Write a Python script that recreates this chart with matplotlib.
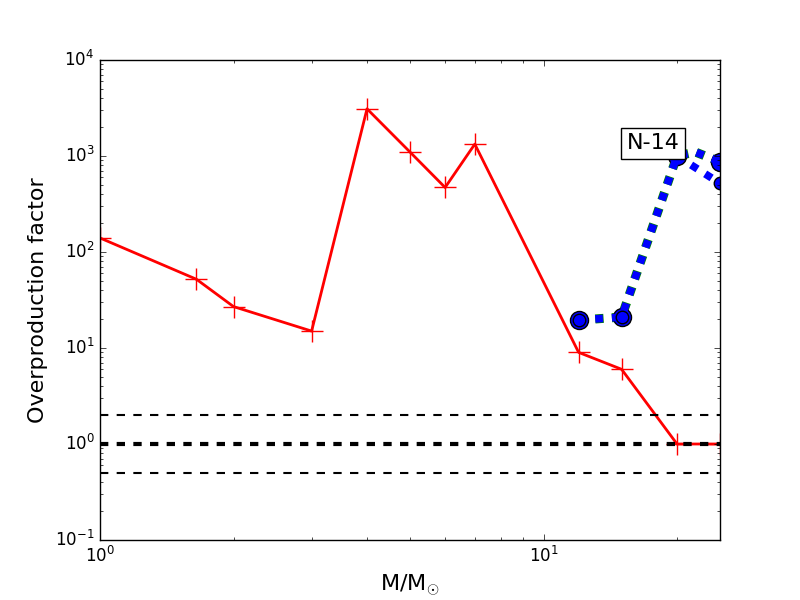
import numpy as np
import matplotlib
matplotlib.use("Agg")
import matplotlib.pyplot as plt

plt.style.use("classic")

# red model: overproduction factor vs initial mass
mass_a = [1.0, 1.65, 2.0, 3.0, 4.0, 5.0, 6.0, 7.0, 12.0, 15.0, 20.0, 25.0]
opf_a = [140, 52, 27, 15, 3100, 1100, 470, 1330, 9.0, 6.0, 1.0, 1.0]

# green model
mass_b = [12.0, 15.0, 20.0, 22.0, 25.0]
opf_b = [19.5, 21, 1000, 1100, 870]

# blue dotted model (second branch above 20 Msun)
mass_c = [20.0, 25.0]
opf_c = [1000, 520]

ref_levels = [2.0, 1.0, 0.5]
ref_widths = [1.5, 3.0, 1.5]

fig = plt.figure(figsize=(8, 6), dpi=100, facecolor="white")
ax = fig.add_subplot(111)

ax.plot(mass_a, opf_a, color="red", lw=2, marker="+", ms=16, mec="red", mew=1)

ax.plot(mass_b, opf_b, color="green", lw=6.5, dashes=(6, 6),
        marker="o", ms=13, mfc="blue", mec="black", mew=1,
        markevery=[0, 1, 2, 4])
ax.plot(mass_b, opf_b, color="blue", lw=5.5, dashes=(5.5, 6.5),
        marker="o", ms=9, mfc="blue", mec="black", mew=1,
        markevery=[0, 1])
ax.plot(mass_c, opf_c, color="blue", lw=5.5, dashes=(5.5, 6.5),
        marker="o", ms=9, mfc="blue", mec="black", mew=1,
        markevery=[1])

for lev, w in zip(ref_levels, ref_widths):
    ax.axhline(lev, color="black", ls="--", lw=w)

ax.set_xscale("log")
ax.set_yscale("log")
ax.set_xlim(1, 25)
ax.set_ylim(0.1, 1e4)
ax.set_xlabel(r"M/M$_{\odot}$", fontsize=16)
ax.set_ylabel("Overproduction factor", fontsize=16)

ax.text(17.7, 1350, "N-14", fontsize=16, ha="center", va="center",
        bbox=dict(facecolor="white", edgecolor="black"))

fig.savefig("out.png", dpi=100, facecolor="white")
